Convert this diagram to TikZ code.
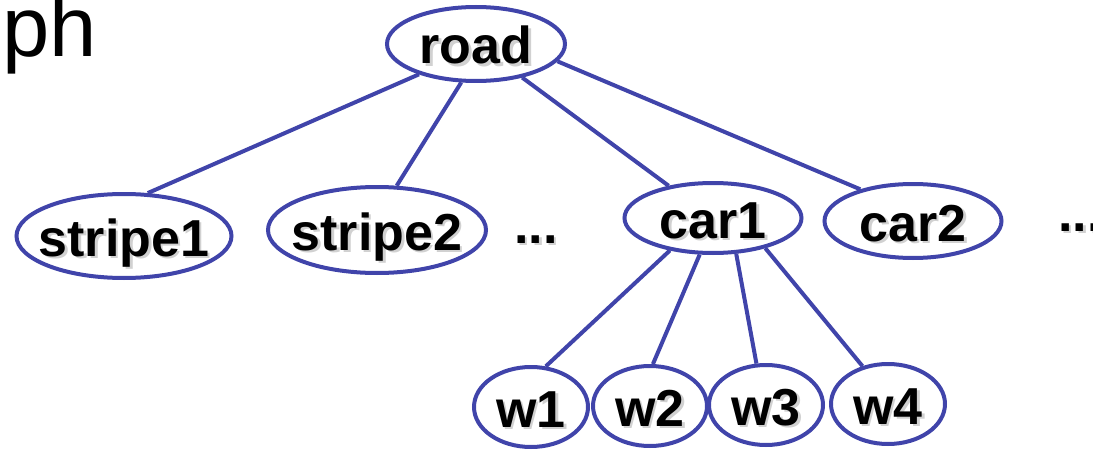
\documentclass[tikz,border=0pt]{standalone}
\usepackage{fontspec}
\setmainfont{Liberation Sans}
\usepackage{xcolor}
\usetikzlibrary{shapes.geometric}

\definecolor{edgeblue}{RGB}{64,68,170}
% text with a light grey drop shadow, zero width so the ellipse size comes from the style
\newcommand{\shadowed}[1]{\makebox[0pt]{\raisebox{-2.5pt}{\color{black!18}\kern5pt #1}}\makebox[0pt]{#1}}

\tikzset{
  obj/.style={ellipse, draw=edgeblue, line width=4pt, inner sep=0pt,
    font=\fontsize{52}{62}\selectfont\bfseries, text height=40pt, text depth=0pt},
  link/.style={draw=edgeblue, line width=4pt},
  dots/.style={inner sep=0pt, anchor=base, font=\fontsize{52}{62}\selectfont\bfseries}
}

\begin{document}
\begin{tikzpicture}[x=1pt,y=-1pt]
\useasboundingbox (0,0) rectangle (1093,452);

% title fragment
\node[inner sep=0pt, anchor=base west, font=\fontsize{85}{100}\selectfont] (title) at (2,57) {ph};

% scene graph nodes
\node[obj, minimum width=178pt, minimum height=74pt] (road) at (476,44) {\shadowed{road}};
\node[obj, minimum width=215pt, minimum height=84pt] (stripe1) at (124,236) {\shadowed{stripe1}};
\node[obj, minimum width=218pt, minimum height=86pt] (stripe2) at (377,230) {\shadowed{stripe2}};
\node[obj, minimum width=177pt, minimum height=70pt] (car1) at (713,218) {\shadowed{car1}};
\node[obj, minimum width=177pt, minimum height=74pt] (car2) at (913,221) {\shadowed{car2}};
\node[dots] (more1) at (536,243) {\shadowed{...}};
\node[dots] (more2) at (1080,231) {\shadowed{...}};

% wheels
\foreach \i/\x/\y in {1/531/407, 2/650/406, 3/766/405, 4/888/404} {
    \node[obj, minimum width=114pt, minimum height=80pt] (w\i) at (\x,\y) {\shadowed{w\i}};
}

% edges from road
\draw[link] (road.208) -- (stripe1.61);
\draw[link] (road.249) -- (stripe2.66);
\draw[link] (road.324) -- (car1.144);
\draw[link] (road.348) -- (car2.149);

% edges from car1
\foreach \i/\a/\b in {1/217/70, 2/250/86, 3/303/103, 4/330/124} {
    \draw[link] (car1.\a) -- (w\i.\b);
}
\end{tikzpicture}
\end{document}
